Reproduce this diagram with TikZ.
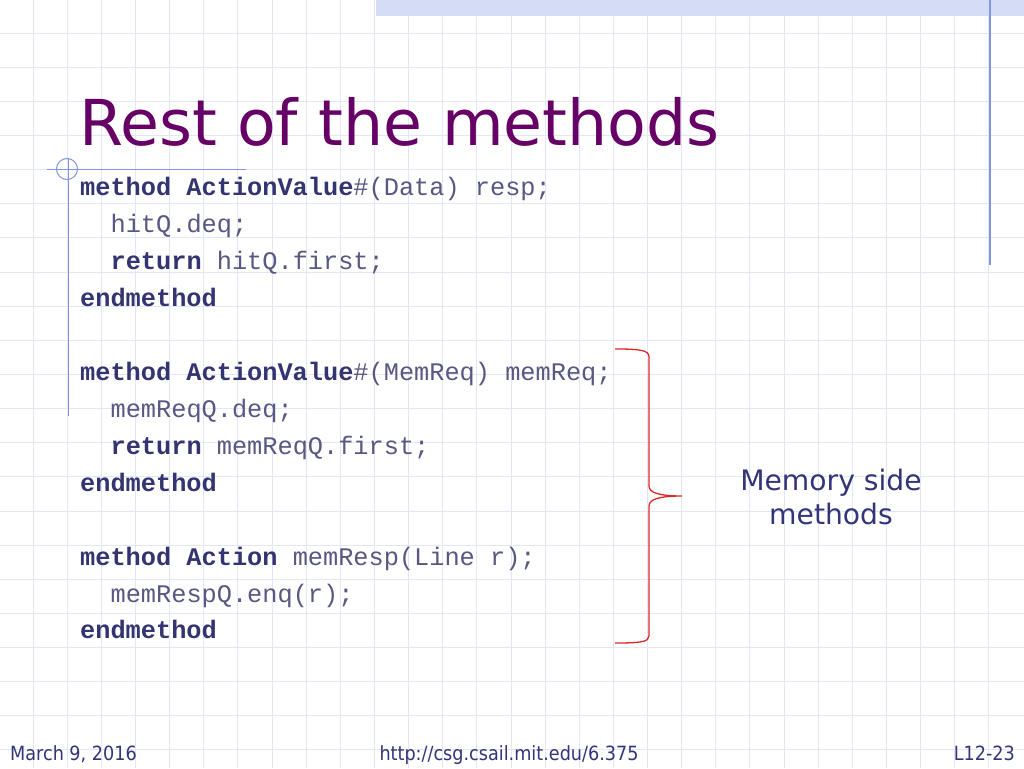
\documentclass[tikz,border=0pt]{standalone}
\usepackage{fontspec}
\setmainfont{DejaVu Sans}
\newfontfamily\codefont{Liberation Mono}
\newfontfamily\footfont{DejaVu Sans Condensed}
\definecolor{titlepurple}{RGB}{102,0,102}
\definecolor{codebold}{RGB}{52,52,112}
\definecolor{codereg}{RGB}{88,88,130}
\definecolor{noteblue}{RGB}{52,52,120}
\definecolor{gridc}{RGB}{226,230,245}
\definecolor{bandc}{RGB}{212,220,246}
\definecolor{rulec}{RGB}{130,150,222}
\definecolor{bracered}{RGB}{220,40,40}
\tikzset{
  codeline/.style={anchor=base west, inner sep=0pt, font=\codefont\fontsize{25.3}{30}\selectfont, text=codereg},
  notetext/.style={align=center, inner sep=0pt, font=\fontsize{28.2}{34}\selectfont, text=noteblue},
  foottext/.style={inner sep=0pt, font=\footfont\fontsize{19.6}{22}\selectfont, text=noteblue},
}
\newcommand{\kw}[1]{\textcolor{codebold}{\bfseries #1}}
\begin{document}
\begin{tikzpicture}[x=1pt,y=-1pt]
\useasboundingbox (0,0) rectangle (1024,768);
\fill[white] (0,0) rectangle (1024,768);
% grid
\foreach \k in {1,...,29} {
  \draw[gridc, line width=0.9pt] ({\k*34.13-1},0) -- ({\k*34.13-1},768);
}
\foreach \k in {1,...,22} {
  \draw[gridc, line width=0.9pt] (0,{\k*34.13-1}) -- (1024,{\k*34.13-1});
}
% top band
\fill[bandc] (376,0) rectangle (1024,16);
% right rule
\draw[rulec, line width=1.2pt] (990,0) -- (990,265);
% title ornament
\draw[rulec, line width=1pt] (47,169) -- (246,169);
\draw[rulec, line width=1pt] (68,158) -- (68,416);
\draw[rulec, line width=1pt] (67,169) circle (10.5);
% title
\node[anchor=base west, inner sep=0pt, text=titlepurple, font=\fontsize{63.3}{70}\selectfont] (title) at (79,145) {Rest of the methods};
% code
\node[codeline] (l1) at (80,195) {\kw{method ActionValue}\#(Data) resp;};
\node[codeline] (l2) at (110.4,232) {hitQ.deq;};
\node[codeline] (l3) at (110.4,269) {\kw{return} hitQ.first;};
\node[codeline] (l4) at (80,306) {\kw{endmethod}};
\node[codeline] (l5) at (80,380) {\kw{method ActionValue}\#(MemReq) memReq;};
\node[codeline] (l6) at (110.4,417) {memReqQ.deq;};
\node[codeline] (l7) at (110.4,454) {\kw{return} memReqQ.first;};
\node[codeline] (l8) at (80,491) {\kw{endmethod}};
\node[codeline] (l9) at (80,565) {\kw{method Action} memResp(Line r);};
\node[codeline] (l10) at (110.4,602) {memRespQ.enq(r);};
\node[codeline] (l11) at (80,638) {\kw{endmethod}};
% brace
\coordinate (btop) at (615,349);
\coordinate (btip) at (682,496);
\coordinate (bbot) at (615,643);
\draw[bracered, line width=1.3pt] (btop) .. controls (640,349) and (649,350) .. (649,357) -- (649,486) .. controls (649,493) and (660,496) .. (btip) .. controls (660,496) and (649,499) .. (649,506) -- (649,636) .. controls (649,642) and (640,643) .. (bbot);
\node[notetext] (note) at (831,497) {Memory side\\methods};
% footer
\node[foottext, anchor=base west] (date) at (10,760) {March 9, 2016};
\node[foottext, anchor=base] (url) at (509,760) {http://csg.csail.mit.edu/6.375};
\node[foottext, anchor=base east] (page) at (1015,760) {L12-23};
\end{tikzpicture}
\end{document}
